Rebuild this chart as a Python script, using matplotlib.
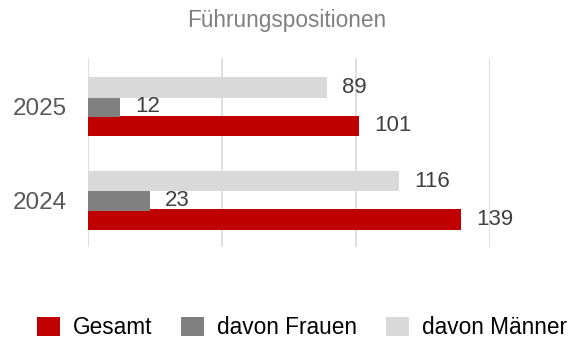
import matplotlib
matplotlib.use("Agg")
import matplotlib.pyplot as plt
import numpy as np

plt.rcParams['font.family'] = ['Liberation Sans', 'DejaVu Sans']

# Data
years = ["2024", "2025"]
gesamt = [139, 101]
frauen = [23, 12]
maenner = [116, 89]
series_labels = ["Gesamt", "davon Frauen", "davon Männer"]
colors = ["#C00000", "#808080", "#D9D9D9"]

fig = plt.figure(figsize=(5.71, 3.41), dpi=100)
ax = fig.add_axes([88 / 571, 1 - 247 / 341, (490 - 88) / 571, (247 - 58) / 341])

y = np.arange(len(years))
h = 0.22
step = 0.205
series = [gesamt, frauen, maenner]
offsets = [-step, 0.0, step]

bars = []
for vals, off, col, lab in zip(series, offsets, colors, series_labels):
    b = ax.barh(y + off, vals, height=h, color=col, label=lab, zorder=3)
    bars.append(b)
    for rect, v in zip(b, vals):
        ax.annotate(str(v), xy=(rect.get_width(), rect.get_y() + rect.get_height() / 2),
                    xytext=(11, 0), textcoords="offset points",
                    ha="left", va="center", fontsize=16, color="#404040", zorder=4)

ax.set_xlim(0, 150)
ax.set_ylim(-0.5, 1.52)
ax.set_xticks([0, 50, 100, 150])
ax.set_xticklabels([])
ax.set_yticks(y)
ax.set_yticklabels(years, fontsize=17.5, color="#595959")
ax.tick_params(axis="both", length=0)
ax.tick_params(axis="y", pad=15)
ax.grid(axis="x", color="#D9D9D9", linewidth=1.2, zorder=0)
for s in ax.spines.values():
    s.set_visible(False)

fig.text(287 / 571, 1 - 21 / 341, "Führungspositionen", ha="center", va="center",
         fontsize=16.3, color="#808080")

handles = bars
fig.legend(handles, series_labels, loc="center", bbox_to_anchor=(302 / 571, 1 - 328 / 341),
           ncol=3, frameon=False, fontsize=16.3, handlelength=1.0, handleheight=0.95,
           handletextpad=0.57, columnspacing=1.3, borderpad=0, borderaxespad=0)

fig.savefig("out.png", dpi=100)
